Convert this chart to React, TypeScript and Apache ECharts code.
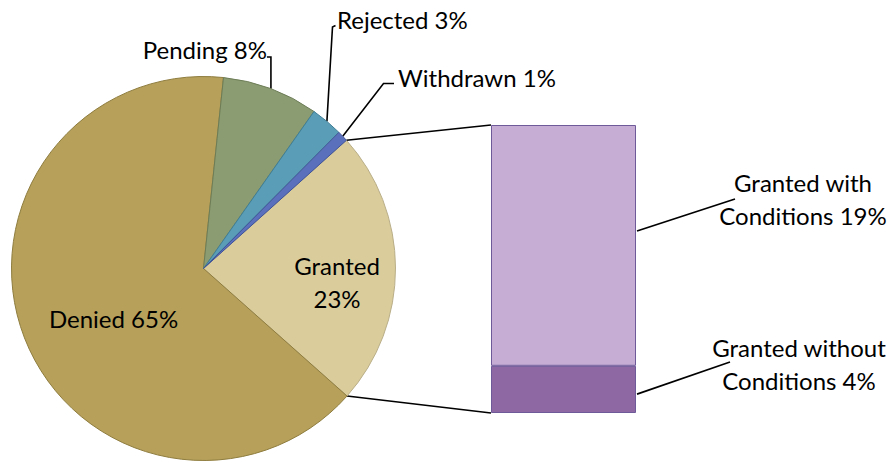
import React, { useEffect, useRef } from "react";
import * as echarts from "echarts";

// ---- data ----
const pieNames = ["Granted", "Denied", "Pending", "Rejected", "Withdrawn"];
const pieValues = [23.2, 65.1, 8.1, 2.7, 0.9];
const pieColors = ["#DACD9B", "#B6A05A", "#8B9C72", "#5A9DB6", "#5B70BC"];
const pieBorders = ["#B9AE88", "#8F7D3F", "#6D7D57", "#3F7E96", "#3F5398"];

const barCategory = ["Granted"];
const barNames = ["Granted without Conditions", "Granted with Conditions"];
const barValues = [3.8, 19.4];
const barColors = ["#8E68A3", "#C6ADD4"];
const barLabels = ["Granted without\nConditions 4%", "Granted with\nConditions 19%"];

// ---- layout ----
const W = 893;
const H = 462;
const CX = 203.5;
const CY = 268.5;
const R = 192;
const START = 41.9;
const FONT = "Lato";
const FS = 24;

const labelPos: { x: number; y: number; align: string }[] = [
  { x: 337, y: 281.5, align: "center" },
  { x: 113.5, y: 318, align: "center" },
  { x: 267, y: 49, align: "right" },
  { x: 337, y: 19.5, align: "left" },
  { x: 398, y: 77, align: "left" },
];

export default function App() {
  const ref = useRef<HTMLDivElement>(null);
  useEffect(() => {
    if (!ref.current) return;
    const chart = echarts.init(ref.current, null, { renderer: "svg" });
    const total = pieValues.reduce((a, b) => a + b, 0);
    const barTotal = barValues.reduce((a, b) => a + b, 0);

    chart.setOption({
      animation: false,
      grid: { left: 491, top: 125, width: 145, height: 288, containLabel: false },
      xAxis: { type: "category", data: barCategory, show: false },
      yAxis: { type: "value", min: 0, max: barTotal, show: false },
      series: [
        {
          type: "pie",
          center: [CX, CY],
          radius: R,
          startAngle: START,
          clockwise: true,
          avoidLabelOverlap: false,
          data: pieNames.map((n, i) => ({
            name: n,
            value: pieValues[i],
            itemStyle: { color: pieColors[i], borderColor: pieBorders[i], borderWidth: 1 },
          })),
          label: {
            show: true,
            position: "inside",
            color: "#000",
            fontFamily: FONT,
            fontSize: FS,
            lineHeight: 33,
            formatter: (p: any) =>
              p.name + (p.dataIndex === 0 ? "\n" : " ") + Math.round((p.value / total) * 100) + "%",
          },
          labelLine: { show: false },
          labelLayout: (p: any) => ({
            x: labelPos[p.dataIndex].x,
            y: labelPos[p.dataIndex].y,
            align: labelPos[p.dataIndex].align,
            verticalAlign: "middle",
          }),
          emphasis: { disabled: true },
        },
        ...barNames.map((n, i) => ({
          type: "bar",
          name: n,
          stack: "g",
          data: [barValues[i]],
          barWidth: "100%",
          itemStyle: { color: barColors[i], borderColor: "#6F5A99", borderWidth: 1 },
          emphasis: { disabled: true },
        })),
      ],
    });

    // geometry for connectors & leaders
    const rad = (d: number) => (d * Math.PI) / 180;
    const edge = (deg: number) => [CX + R * Math.cos(rad(deg)), CY - R * Math.sin(rad(deg))];
    const mids: number[] = [];
    let acc = START;
    pieValues.forEach((v) => {
      const span = (v / total) * 360;
      mids.push(acc - span / 2);
      acc -= span;
    });
    const grantedEnd = START - (pieValues[0] / total) * 360;
    const yTop = chart.convertToPixel({ gridIndex: 0 }, [0, barTotal])[1];
    const yBot = chart.convertToPixel({ gridIndex: 0 }, [0, 0])[1];
    const ySplit = chart.convertToPixel({ gridIndex: 0 }, [0, barValues[0]])[1];
    const barL = 491;
    const barR = 636;

    const ln = { stroke: "#000", lineWidth: 1.6, fill: null };
    const pPend = edge(mids[2]);
    const pRej = edge(mids[3]);
    const pWd = edge(mids[4]);
    const txt = (text: string, x: number, y: number) => ({
      type: "text",
      x,
      y,
      style: {
        text,
        fill: "#000",
        fontFamily: FONT,
        fontSize: FS,
        lineHeight: 33,
        align: "center",
        verticalAlign: "middle",
      },
      silent: true,
    });
    const graphics: any[] = [
      { type: "polyline", shape: { points: [edge(START), [barL, yTop]] }, style: ln, silent: true },
      { type: "polyline", shape: { points: [edge(grantedEnd), [barL, yBot]] }, style: ln, silent: true },
      { type: "polyline", shape: { points: [pPend, [pPend[0], 57], [pPend[0] - 4, 57]] }, style: ln, silent: true },
      { type: "polyline", shape: { points: [pRej, [332.5, 27], [335.5, 25.5]] }, style: ln, silent: true },
      { type: "polyline", shape: { points: [pWd, [383.5, 83.5], [394, 83.5]] }, style: ln, silent: true },
      {
        type: "polyline",
        shape: { points: [[barR + 1, ySplit + (yBot - ySplit) * 0.6], [730, 362]] },
        style: ln,
        silent: true,
      },
      {
        type: "polyline",
        shape: { points: [[barR + 1, yTop + (ySplit - yTop) * 0.44], [735, 199]] },
        style: ln,
        silent: true,
      },
      txt(barLabels[0], 799, 363.5),
      txt(barLabels[1], 803, 198.5),
    ];
    chart.setOption({ graphic: graphics });
    return () => chart.dispose();
  }, []);
  return (
    <div
      ref={ref}
      style={{ position: "fixed", left: 0, top: 0, width: W, height: H, background: "#fff" }}
    />
  );
}
